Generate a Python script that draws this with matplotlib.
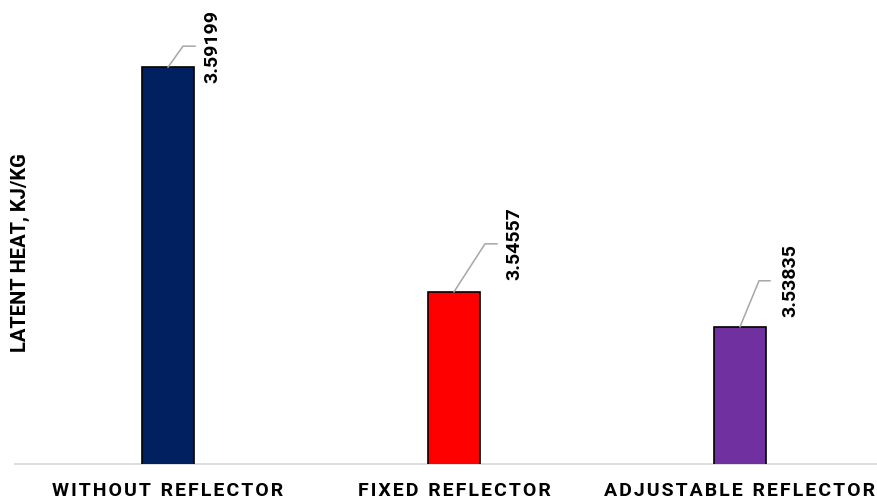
import matplotlib.pyplot as plt
from matplotlib.lines import Line2D
from matplotlib.transforms import IdentityTransform

# latent heat for each reflector setup (kJ/kg)
categories = ["WITHOUT REFLECTOR", "FIXED REFLECTOR", "ADJUSTABLE REFLECTOR"]
latent_heat = [3.59199, 3.54557, 3.53835]
value_labels = ["3.59199", "3.54557", "3.53835"]
bar_colors = ["#002060", "#ff0000", "#7030a0"]

# leader line layout per label, in pixels: elbow dx, elbow dy, tail length, text dx
leaders = [(15, 21, 12, 44), (31, 48, 12, 60), (19, 46, 11, 50)]

FONT = ["Roboto", "DejaVu Sans"]
HAIR = "\u200a"


def tracked(text):
    """Spread letters out a bit, like character spacing in office charts."""
    words = text.split(" ")
    return "  ".join(HAIR.join(w) for w in words)


W, H = 877, 504
fig = plt.figure(figsize=(W / 100, H / 100), dpi=100)
ax = fig.add_axes([15 / W, 40 / H, 878 / W, 435.6 / H])

x = list(range(len(categories)))
ax.bar(x, latent_heat, width=0.185, color=bar_colors,
       edgecolor="black", linewidth=1.2, zorder=3)

ax.set_xlim(-0.535, 2.535)
ax.set_ylim(3.51, 3.60)

for s in ["top", "right", "left"]:
    ax.spines[s].set_visible(False)
ax.spines["bottom"].set_color("#d9d9d9")
ax.spines["bottom"].set_linewidth(1.2)
ax.set_yticks([])
ax.set_xticks(x)
ax.set_xticklabels([tracked(c) for c in categories], family=FONT,
                   fontweight="bold", fontsize=14)
ax.tick_params(axis="x", length=0, pad=13)

# value labels with bent leader lines
for i, (v, lab) in enumerate(zip(latent_heat, value_labels)):
    ex, ey, tail, tdx = leaders[i]
    x0, y0 = ax.transData.transform((i, v))
    xs = [x0, x0 + ex, x0 + ex + tail]
    ys = [y0, y0 + ey, y0 + ey]
    fig.add_artist(Line2D(xs, ys, transform=IdentityTransform(),
                          color="#a6a6a6", linewidth=1.1))
    ax.annotate(lab, xy=(i, v), xytext=(tdx * 0.72, ey * 0.72),
                textcoords="offset points", rotation=90,
                ha="center", va="center", family=FONT,
                fontweight="bold", fontsize=14)

fig.text(20 / W, 1 - 253 / H, "LATENT HEAT, KJ/KG", rotation=90,
         ha="center", va="center", family=FONT, fontweight="bold",
         fontsize=14.5)

fig.savefig("out.png", dpi=100)
